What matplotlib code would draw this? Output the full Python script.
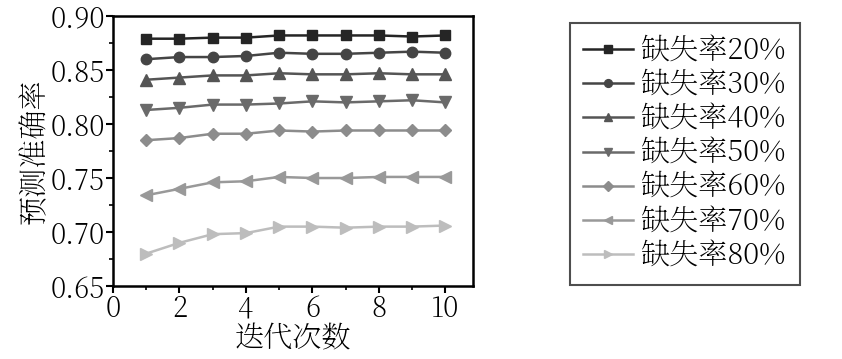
import matplotlib
matplotlib.use('Agg')
import matplotlib.pyplot as plt
from matplotlib.ticker import MultipleLocator

plt.rcParams['font.family'] = ['Noto Serif SC', 'Liberation Serif']

# 迭代次数
iterations = [1, 2, 3, 4, 5, 6, 7, 8, 9, 10]

# 各缺失率下的预测准确率
labels = ['缺失率20%', '缺失率30%', '缺失率40%', '缺失率50%',
          '缺失率60%', '缺失率70%', '缺失率80%']
acc_20 = [0.879, 0.879, 0.880, 0.880, 0.882, 0.882, 0.882, 0.882, 0.881, 0.882]
acc_30 = [0.860, 0.862, 0.862, 0.863, 0.866, 0.865, 0.865, 0.866, 0.867, 0.866]
acc_40 = [0.841, 0.843, 0.845, 0.845, 0.847, 0.846, 0.846, 0.847, 0.846, 0.846]
acc_50 = [0.813, 0.815, 0.818, 0.818, 0.819, 0.821, 0.820, 0.821, 0.822, 0.820]
acc_60 = [0.785, 0.787, 0.791, 0.791, 0.794, 0.793, 0.794, 0.794, 0.794, 0.794]
acc_70 = [0.734, 0.740, 0.746, 0.747, 0.751, 0.750, 0.750, 0.751, 0.751, 0.751]
acc_80 = [0.680, 0.690, 0.698, 0.699, 0.705, 0.705, 0.704, 0.705, 0.705, 0.706]

series = [acc_20, acc_30, acc_40, acc_50, acc_60, acc_70, acc_80]
markers = ['s', 'o', '^', 'v', 'D', '<', '>']
msizes = [7, 7.5, 8, 8, 6.5, 8, 8]
colors = ['#252525', '#454545', '#555555', '#6a6a6a', '#8c8c8c', '#999999', '#bdbdbd']

fig = plt.figure(figsize=(8.42, 3.59), dpi=100)
ax = fig.add_axes([0.1342, 0.2033, 0.4276, 0.7521])

for vals, lab, m, ms, c in zip(series, labels, markers, msizes, colors):
    ax.plot(iterations, vals, marker=m, markersize=ms, color=c, linewidth=1.8, label=lab)

ax.set_xlim(0, 10.83)
ax.set_ylim(0.65, 0.90)
ax.xaxis.set_major_locator(MultipleLocator(2))
ax.xaxis.set_minor_locator(MultipleLocator(1))
ax.yaxis.set_major_locator(MultipleLocator(0.05))
ax.yaxis.set_minor_locator(MultipleLocator(0.025))
ax.yaxis.set_major_formatter(plt.FormatStrFormatter('%.2f'))
ax.tick_params(which='major', direction='out', length=5, width=1.5, labelsize=20, pad=1)
ax.tick_params(which='minor', direction='out', length=3, width=1.2)
for s in ax.spines.values():
    s.set_linewidth(1.8)

ax.set_xlabel('迭代次数', fontsize=21, labelpad=0)
ax.set_ylabel('预测准确率', fontsize=21, labelpad=0)

leg = ax.legend(loc='upper left', bbox_to_anchor=(1.269, 0.974), fontsize=21,
                frameon=True, fancybox=False, edgecolor='#222222',
                handlelength=1.7, handletextpad=0.3, labelspacing=0.14,
                borderpad=0.45, borderaxespad=0.0, markerscale=0.75)
leg.get_frame().set_linewidth(1.5)

fig.savefig('out.png', dpi=100)
